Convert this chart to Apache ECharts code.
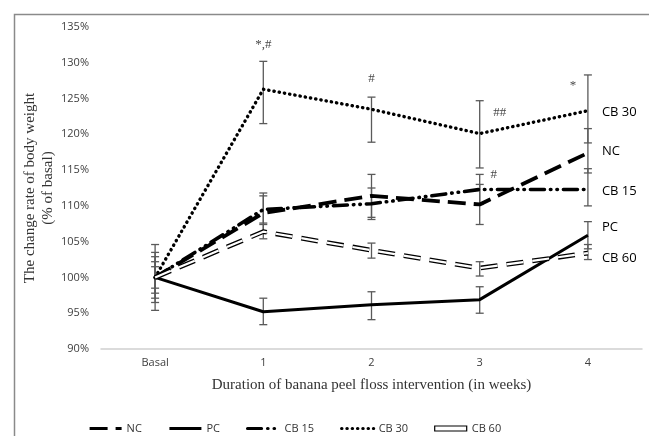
<!DOCTYPE html>
<html>
<head>
<meta charset="utf-8">
<script src="https://cdn.jsdelivr.net/npm/echarts@6/dist/echarts.min.js"></script>
<style>html,body{margin:0;padding:0;background:#fff;}#c{width:649px;height:436px;}</style>
</head>
<body>
<div id="c"></div>
<script>
const categories = ['Basal', '1', '2', '3', '4'];
const yTicks = [90, 95, 100, 105, 110, 115, 120, 125, 130, 135];

const NC   = [100, 109.0, 111.4, 110.2, 117.4];
const PC   = [100,  95.2,  96.2,  96.9, 105.9];
const CB15 = [100, 109.5, 110.3, 112.3, 112.3];
const CB30 = [100, 126.3, 123.5, 120.1, 123.3];
const CB60 = [100, 106.4, 103.8, 101.3, 103.4];

// error bar extents (plus / minus), in percentage points
const NC_plus    = [3.5, 2.8, 3.0, 2.8, 3.4];
const NC_minus   = [3.5, 2.8, 3.0, 2.8, 2.8];
const PC_plus    = [4.6, 1.9, 1.8, 1.8, 1.9];
const PC_minus   = [4.6, 1.8, 2.1, 1.9, 1.9];
const CB15_plus  = [2.2, 1.9, 2.2, 2.1, 2.9];
const CB15_minus = [2.2, 1.9, 2.2, 2.1, 2.3];
const CB30_plus  = [1.5, 3.9, 1.7, 4.6, 5.0];
const CB30_minus = [1.5, 4.8, 4.6, 4.8, 4.5];
const CB60_plus  = [2.9, 1.0, 1.0, 0.9, 1.2];
const CB60_minus = [2.9, 1.0, 1.1, 1.1, 0.9];

// significance marks
const annoCats  = ['1', '2', '3', '3', '4'];
const annoVals  = [132.6, 127.8, 123.1, 114.4, 126.8];
const annoTexts = ['*,#', '#', '##', '#', '*'];

const annoOffsets = [[0,0],[0,0],[20,0],[14,0],[-15,0]];

const chart = echarts.init(document.getElementById('c'), null, {renderer: 'canvas'});

function errData(vals, plus, minus) {
  return vals.map((v, i) => [i, v + plus[i], v - minus[i]]);
}
const allErr = [].concat(
  errData(NC, NC_plus, NC_minus),
  errData(PC, PC_plus, PC_minus),
  errData(CB15, CB15_plus, CB15_minus),
  errData(CB30, CB30_plus, CB30_minus),
  errData(CB60, CB60_plus, CB60_minus)
);

const endLbl = (offset) => ({
  show: true, formatter: '{a}', distance: 14, offset: offset,
  fontFamily: 'Open Sans', fontSize: 13, color: '#000'
});

const option = {
  animation: false,
  backgroundColor: '#fff',
  graphic: [{
    type: 'rect', left: 12, top: 12, shape: {x: 0, y: 0, width: 700, height: 500},
    style: {fill: 'none', stroke: '#8a8a8a', lineWidth: 1.5}, silent: true, z: -1
  }],
  grid: {left: 101, right: 7, top: 27, bottom: 87},
  legend: {
    left: 83, top: 418, itemWidth: 32, itemHeight: 5, itemGap: 26,
    itemStyle: {opacity: 0},
    lineStyle: {width: 3.2},
    textStyle: {fontFamily: 'Open Sans', fontSize: 11, color: '#333'},
    data: [
      {name: 'NC'}, {name: 'PC'}, {name: 'CB 15'}, {name: 'CB 30'},
      {name: 'CB 60', icon: 'rect', itemStyle: {opacity: 1, color: '#fff', borderColor: '#000', borderWidth: 1.2}}
    ]
  },
  xAxis: {
    type: 'category', data: categories, boundaryGap: true,
    axisLine: {lineStyle: {color: '#d0d0d0', width: 1.5}},
    axisTick: {show: false},
    axisLabel: {color: '#404040', fontFamily: 'Open Sans', fontSize: 11, margin: 8},
    name: 'Duration of banana peel floss intervention (in weeks)',
    nameLocation: 'middle', nameGap: 29, nameMoveOverlap: false,
    nameTextStyle: {fontFamily: 'Liberation Serif', fontSize: 15, color: '#333'}
  },
  yAxis: {
    type: 'value', min: yTicks[0], max: yTicks[yTicks.length - 1], interval: 5,
    axisLine: {show: false}, axisTick: {show: false}, splitLine: {show: false},
    axisLabel: {formatter: '{value}%', color: '#404040', fontFamily: 'Open Sans', fontSize: 11, margin: 12},
    name: 'The change rate of body weight\n(% of basal)',
    nameLocation: 'middle', nameGap: 44, nameMoveOverlap: false,
    nameTextStyle: {fontFamily: 'Liberation Serif', fontSize: 15, color: '#333', lineHeight: 18}
  },
  series: [
    {
      name: 'errors', type: 'custom', data: allErr, z: 1, silent: true,
      renderItem: function (params, api) {
        const x = api.coord([api.value(0), api.value(1)]);
        const lo = api.coord([api.value(0), api.value(2)]);
        const w = 4;
        const st = {stroke: '#5a5a5a', lineWidth: 1.3};
        return {type: 'group', children: [
          {type: 'line', shape: {x1: x[0], y1: x[1], x2: lo[0], y2: lo[1]}, style: st},
          {type: 'line', shape: {x1: x[0] - w, y1: x[1], x2: x[0] + w, y2: x[1]}, style: st},
          {type: 'line', shape: {x1: lo[0] - w, y1: lo[1], x2: lo[0] + w, y2: lo[1]}, style: st}
        ]};
      }
    },
    {
      name: 'NC', type: 'line', data: NC, symbol: 'none', z: 3,
      lineStyle: {color: '#000', width: 3.8, type: [18, 8]},
      itemStyle: {color: '#000'},
      endLabel: endLbl([0, -2])
    },
    {
      name: 'PC', type: 'line', data: PC, symbol: 'none', z: 3,
      lineStyle: {color: '#000', width: 3},
      itemStyle: {color: '#000'},
      endLabel: endLbl([0, -8])
    },
    {
      name: 'CB 15', type: 'line', data: CB15, symbol: 'none', z: 3,
      lineStyle: {color: '#000', width: 3.6, type: [14, 6, 0.5, 6, 0.5, 6], cap: 'round'},
      itemStyle: {color: '#000'},
      endLabel: endLbl([0, 2])
    },
    {
      name: 'CB 30', type: 'line', data: CB30, symbol: 'none', z: 3,
      lineStyle: {color: '#000', width: 3.4, type: [0.3, 5], cap: 'round'},
      itemStyle: {color: '#000'},
      endLabel: endLbl([0, 2])
    },
    {
      name: 'CB 60', type: 'line', data: CB60, symbol: 'none', z: 3,
      lineStyle: {color: '#000', width: 4.8, type: [17, 9]},
      itemStyle: {color: '#000'},
      endLabel: endLbl([0, 5])
    },
    {
      name: 'CB 60 inner', type: 'line', data: CB60, symbol: 'none', z: 4, silent: true,
      lineStyle: {color: '#fff', width: 2.2, type: [17, 9]},
      itemStyle: {color: '#fff'}
    },
    {
      name: 'marks', type: 'scatter', symbolSize: 0, z: 5, silent: true,
      data: annoCats.map((c, i) => ({
        value: [c, annoVals[i]],
        label: {show: true, formatter: annoTexts[i], offset: annoOffsets[i]}
      })),
      label: {position: 'inside', fontFamily: 'Liberation Serif', fontSize: 13, color: '#111'}
    }
  ]
};
chart.setOption(option);
</script>
</body>
</html>
